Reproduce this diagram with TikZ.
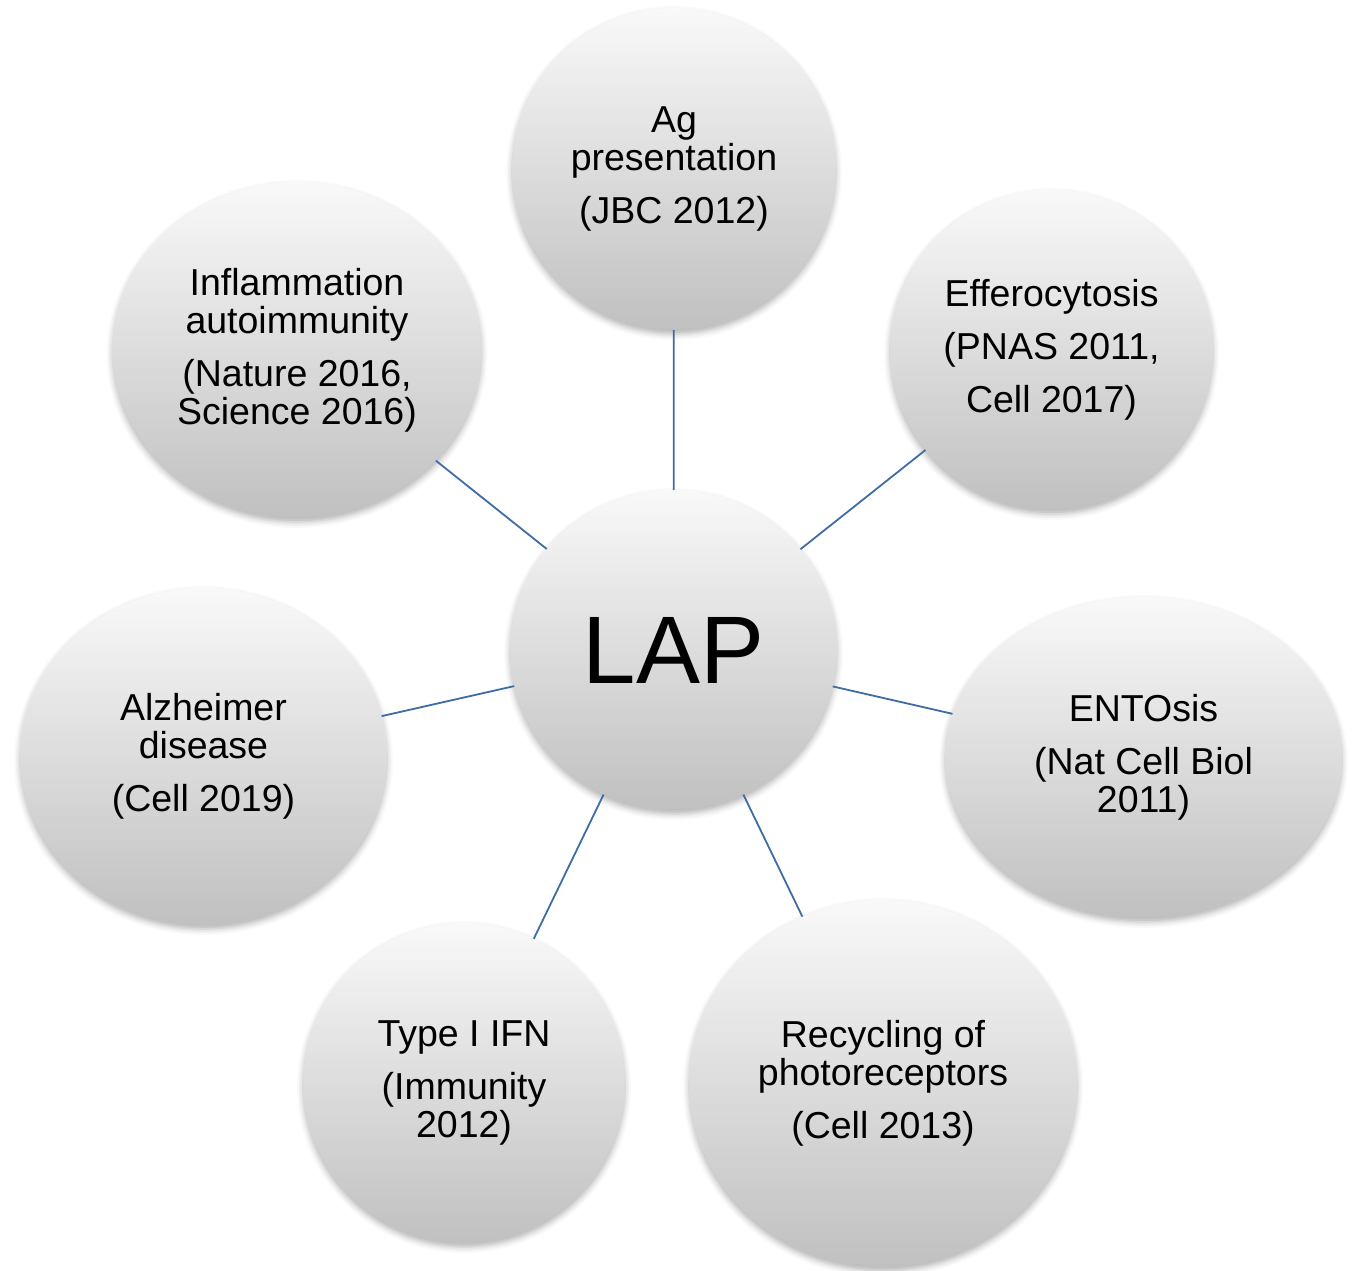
\documentclass[tikz,border=0pt]{standalone}
\usepackage{fontspec}
\setmainfont{Liberation Sans}
\usetikzlibrary{shapes.geometric,shadows.blur}
\definecolor{linkblue}{RGB}{62,108,164}
\definecolor{topgray}{RGB}{249,249,249}
\definecolor{botgray}{RGB}{192,192,192}
\tikzset{
  bubble/.style={ellipse, inner sep=0pt, outer sep=0pt, align=center,
    top color=topgray, bottom color=botgray, draw=none,
    blur shadow={shadow xshift=0pt, shadow yshift=-4pt, shadow blur radius=6pt, shadow opacity=30},
    font=\fontsize{37.5}{38}\selectfont},
  hub/.style={bubble, font=\fontsize{96}{100}\selectfont},
  link/.style={draw=linkblue, line width=1.8pt}
}
\begin{document}
\begin{tikzpicture}[x=1pt,y=1pt]
\useasboundingbox (0,0) rectangle (1356,1270);
\node[hub, minimum width=327, minimum height=320] (lap) at (673.5,620) {LAP};
\node[bubble, minimum width=324, minimum height=322] (ag) at (674,1101) {Ag\\presentation\\[15pt](JBC 2012)};
\node[bubble, minimum width=323, minimum height=320] (eff) at (1051.5,920) {Efferocytosis\\[15pt](PNAS 2011,\\[15pt]Cell 2017)};
\node[bubble, minimum width=397, minimum height=321] (ent) at (1143.5,512.5) {ENTOsis\\[15pt](Nat Cell Biol\\2011)};
\node[bubble, minimum width=388, minimum height=367] (rec) at (883,186.5) {Recycling of\\photoreceptors\\[15pt](Cell 2013)};
\node[bubble, minimum width=322, minimum height=320] (ifn) at (464,187) {Type I IFN\\[15pt](Immunity\\2012)};
\node[bubble, minimum width=367, minimum height=337] (alz) at (203.5,513.5) {Alzheimer\\disease\\[15pt](Cell 2019)};
\node[bubble, minimum width=369, minimum height=336] (inf) at (297,920) {Inflammation\\autoimmunity\\[15pt](Nature 2016,\\Science 2016)};
\draw[link] (lap) -- (ag);
\draw[link] (lap) -- (eff);
\draw[link] (lap) -- (ent);
\draw[link] (lap) -- (rec);
\draw[link] (lap) -- (ifn);
\draw[link] (lap) -- (alz);
\draw[link] (lap) -- (inf);
\end{tikzpicture}
\end{document}
